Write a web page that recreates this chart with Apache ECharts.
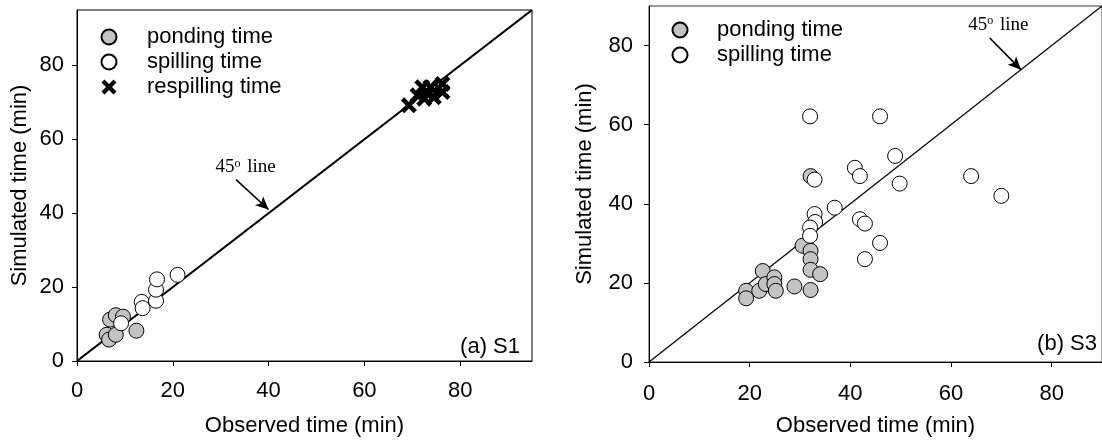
<!DOCTYPE html>
<html>
<head>
<meta charset="utf-8">
<script src="https://cdn.jsdelivr.net/npm/echarts@6/dist/echarts.min.js"></script>
<style>
  html, body { margin: 0; padding: 0; background: #fff; }
  #chart { width: 1102px; height: 442px; }
</style>
</head>
<body>
<div id="chart"></div>
<script>
// ---- Panel (a) S1: observed vs simulated times (min) ----
const s1Ponding = [[6.2, 7.1], [6.7, 5.8], [8.1, 7.1], [6.9, 11.2], [8.1, 12.4], [9.6, 12.0], [12.4, 8.2]];
const s1Spilling = [[9.2, 10.2], [13.5, 16.0], [13.7, 14.3], [16.5, 16.3], [16.5, 19.3], [16.7, 22.1], [21.0, 23.3]];
const s1Respilling = [[69.3, 69.2], [71.1, 71.9], [72.1, 74.1], [73.8, 74.1], [73.2, 72.3], [72.5, 71.0],
                      [76.3, 75.0], [76.3, 72.8], [74.5, 71.4]];

// ---- Panel (b) S3 ----
const s3Ponding = [[19.3, 18.0], [19.3, 16.1], [21.9, 18.0], [22.6, 23.0], [23.2, 19.7], [24.9, 21.4],
                   [24.9, 19.7], [25.2, 18.0], [28.9, 19.1], [30.5, 29.4], [32.1, 28.1], [32.1, 26.0],
                   [32.1, 23.3], [32.1, 18.2], [34.0, 22.2], [32.1, 47.0]];
const s3Spilling = [[32.0, 62.1], [45.9, 62.1], [48.9, 52.1], [40.9, 49.1], [41.9, 47.0], [32.9, 46.1],
                    [49.8, 45.1], [64.0, 47.0], [70.0, 42.0], [36.9, 39.0], [32.9, 37.4], [33.0, 35.4],
                    [41.9, 36.1], [42.9, 35.0], [32.0, 34.0], [32.0, 31.9], [45.9, 30.1], [42.9, 26.0]];

// Axis extents and tick labels
const s1Max = 95;
const s3Max = 90;
const tickValues = [0, 20, 40, 60, 80];

// 45-degree reference lines
const s1Diagonal = [[0, 0], [s1Max, s1Max]];
const s3Diagonal = [[0, 0], [s3Max, s3Max]];

// "45° line" callouts: text anchor, arrow tail, arrow head (data units)
const s1Callout = { text: [35.2, 52.5], tail: [33.2, 49.1], head: [40.0, 41.0] };
const s3Callout = { text: [69.4, 85.3], tail: [67.7, 81.9], head: [73.9, 73.9] };

const panelTags = ['(a) S1', '(b) S3'];
const names = { pond: 'ponding time', spill: 'spilling time', respill: 'respilling time' };

const SANS = 'Liberation Sans, Arial, sans-serif';
const SERIF = 'Liberation Serif, Times New Roman, serif';
const FS = 22;
const GREY = '#c3c3c3';
const CROSS = 'path://M0,2L2,0L5,3L8,0L10,2L7,5L10,8L8,10L5,7L2,10L0,8L3,5Z';

function valueAxis(idx, max, labelMargin, name, nameGap) {
  return {
    type: 'value', gridIndex: idx, min: 0, max: max, interval: 20,
    name: name, nameLocation: 'middle', nameGap: nameGap,
    nameTextStyle: { fontFamily: SANS, fontSize: FS, color: '#000' },
    axisLine: { show: true, onZero: false, lineStyle: { color: '#000', width: 1 } },
    axisTick: { show: true, inside: false, length: 5, customValues: tickValues, lineStyle: { color: '#000' } },
    axisLabel: { show: true, customValues: tickValues, margin: labelMargin,
                 fontFamily: SANS, fontSize: FS, color: '#000' },
    splitLine: { show: false }
  };
}

function diagonal(idx, data, width, callout) {
  return {
    type: 'line', xAxisIndex: idx, yAxisIndex: idx, data: data,
    symbol: 'none', silent: true, z: 1,
    lineStyle: { color: '#000', width: width },
    markLine: {
      silent: true, symbol: ['none', 'arrow'], symbolSize: [9, 13],
      label: { show: false },
      lineStyle: { color: '#000', width: 1.6, type: 'solid' },
      data: [[{ coord: callout.tail }, { coord: callout.head }]]
    },
    markPoint: {
      silent: true, symbol: 'circle', symbolSize: 0,
      itemStyle: { color: 'transparent' },
      label: {
        show: true, position: 'inside',
        formatter: '{n|45}{s|o}{n| line}',
        rich: {
          n: { fontFamily: SERIF, fontSize: 19, color: '#000' },
          s: { fontFamily: SERIF, fontSize: 12, color: '#000', verticalAlign: 'top', padding: [0, 2, 0, 0] }
        }
      },
      data: [{ coord: callout.text }]
    }
  };
}

function circles(idx, name, data, fill) {
  return {
    type: 'scatter', name: name, xAxisIndex: idx, yAxisIndex: idx, data: data,
    symbol: 'circle', symbolSize: 15, z: 3,
    itemStyle: { color: fill, borderColor: '#000', borderWidth: 1, opacity: 1 }
  };
}

function legendBlock(left, top, data, textPad) {
  return {
    orient: 'vertical', left: left, top: top, data: data, selectedMode: false,
    itemWidth: 15, itemHeight: 15, itemGap: 3,
    textStyle: { fontFamily: SANS, fontSize: FS, color: '#000', lineHeight: 20, padding: [0, 0, 0, textPad] }
  };
}

const chart = echarts.init(document.getElementById('chart'), null, { renderer: 'canvas' });

chart.setOption({
  animation: false,
  backgroundColor: '#fff',
  grid: [
    { left: 77, top: 10, width: 455, height: 356, show: true, borderColor: '#000', borderWidth: 1, backgroundColor: 'transparent' },
    { left: 649, top: 6, width: 455, height: 358, show: true, borderColor: '#333', borderWidth: 1, backgroundColor: 'transparent' }
  ],
  xAxis: [
    valueAxis(0, s1Max, 19, 'Observed time (min)', 54),
    valueAxis(1, s3Max, 21, 'Observed time (min)', 53)
  ],
  yAxis: [
    valueAxis(0, s1Max, 13, 'Simulated time (min)', 46),
    valueAxis(1, s3Max, 16, 'Simulated time (min)', 53)
  ],
  legend: [
    legendBlock(95.5, 21, [names.pond, names.spill, names.respill], 25.5),
    legendBlock(666.5, 14, [names.pond, names.spill], 24.5)
  ],
  graphic: [
    { type: 'text', right: 1102 - 520, top: 336, style: { text: panelTags[0], font: FS + 'px ' + SANS, fill: '#000' } },
    { type: 'text', right: 5, top: 333, style: { text: panelTags[1], font: FS + 'px ' + SANS, fill: '#000' } }
  ],
  series: [
    diagonal(0, s1Diagonal, 2.2, s1Callout),
    circles(0, names.pond, s1Ponding, GREY),
    circles(0, names.spill, s1Spilling, '#fff'),
    {
      type: 'scatter', name: names.respill, xAxisIndex: 0, yAxisIndex: 0, data: s1Respilling,
      symbol: CROSS, symbolSize: 16, z: 4,
      itemStyle: { color: '#000', borderWidth: 0, opacity: 1 }
    },
    diagonal(1, s3Diagonal, 1.3, s3Callout),
    circles(1, names.pond, s3Ponding, GREY),
    circles(1, names.spill, s3Spilling, '#fff')
  ]
});
</script>
</body>
</html>
